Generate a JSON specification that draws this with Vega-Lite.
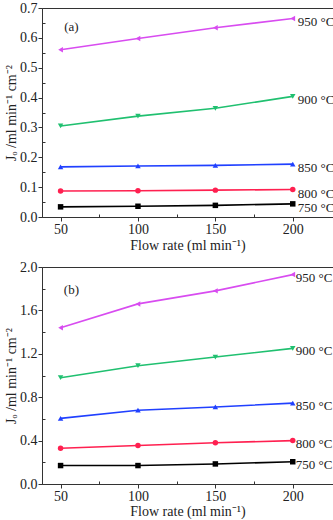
{
  "$schema": "https://vega.github.io/schema/vega-lite/v6.json",
  "padding": {"left": 4, "top": 0, "right": 0, "bottom": 0},
  "background": "white",
  "spacing": 50,
  "bounds": "flush",
  "config": {
    "font": "Liberation Serif",
    "view": {"stroke": "#333", "strokeWidth": 1},
    "axis": {"labelFont": "Liberation Serif", "titleFont": "Liberation Serif", "labelFontSize": 14, "titleFontSize": 14, "titleFontWeight": "normal", "labelColor": "#222", "titleColor": "#222", "domainColor": "#333", "tickColor": "#333", "grid": false, "labelOverlap": false, "labelPadding": 1}
  },
  "datasets": {
    "d": [
      {"p": "a", "t": "750 °C", "f": 50, "v": 0.034}, {"p": "a", "t": "750 °C", "f": 100, "v": 0.036}, {"p": "a", "t": "750 °C", "f": 150, "v": 0.039}, {"p": "a", "t": "750 °C", "f": 200, "v": 0.044},
      {"p": "a", "t": "800 °C", "f": 50, "v": 0.087}, {"p": "a", "t": "800 °C", "f": 100, "v": 0.088}, {"p": "a", "t": "800 °C", "f": 150, "v": 0.090}, {"p": "a", "t": "800 °C", "f": 200, "v": 0.092},
      {"p": "a", "t": "850 °C", "f": 50, "v": 0.168}, {"p": "a", "t": "850 °C", "f": 100, "v": 0.171}, {"p": "a", "t": "850 °C", "f": 150, "v": 0.173}, {"p": "a", "t": "850 °C", "f": 200, "v": 0.177},
      {"p": "a", "t": "900 °C", "f": 50, "v": 0.305}, {"p": "a", "t": "900 °C", "f": 100, "v": 0.338}, {"p": "a", "t": "900 °C", "f": 150, "v": 0.364}, {"p": "a", "t": "900 °C", "f": 200, "v": 0.404},
      {"p": "a", "t": "950 °C", "f": 50, "v": 0.560}, {"p": "a", "t": "950 °C", "f": 100, "v": 0.598}, {"p": "a", "t": "950 °C", "f": 150, "v": 0.634}, {"p": "a", "t": "950 °C", "f": 200, "v": 0.665},
      {"p": "b", "t": "750 °C", "f": 50, "v": 0.17}, {"p": "b", "t": "750 °C", "f": 100, "v": 0.17}, {"p": "b", "t": "750 °C", "f": 150, "v": 0.185}, {"p": "b", "t": "750 °C", "f": 200, "v": 0.205},
      {"p": "b", "t": "800 °C", "f": 50, "v": 0.33}, {"p": "b", "t": "800 °C", "f": 100, "v": 0.355}, {"p": "b", "t": "800 °C", "f": 150, "v": 0.38}, {"p": "b", "t": "800 °C", "f": 200, "v": 0.40},
      {"p": "b", "t": "850 °C", "f": 50, "v": 0.605}, {"p": "b", "t": "850 °C", "f": 100, "v": 0.68}, {"p": "b", "t": "850 °C", "f": 150, "v": 0.71}, {"p": "b", "t": "850 °C", "f": 200, "v": 0.745},
      {"p": "b", "t": "900 °C", "f": 50, "v": 0.98}, {"p": "b", "t": "900 °C", "f": 100, "v": 1.09}, {"p": "b", "t": "900 °C", "f": 150, "v": 1.17}, {"p": "b", "t": "900 °C", "f": 200, "v": 1.25},
      {"p": "b", "t": "950 °C", "f": 50, "v": 1.44}, {"p": "b", "t": "950 °C", "f": 100, "v": 1.66}, {"p": "b", "t": "950 °C", "f": 150, "v": 1.78}, {"p": "b", "t": "950 °C", "f": 200, "v": 1.93}
    ],
    "tags": [
      {"p": "a", "label": "(a)", "f": 57, "v": 0.636},
      {"p": "b", "label": "(b)", "f": 57, "v": 1.79}
    ]
  },
  "vconcat": [
    {
      "width": 291, "height": 209,
      "data": {"name": "d"},
      "transform": [{"filter": "datum.p === 'a'"}],
      "encoding": {
        "x": {"field": "f", "type": "quantitative", "scale": {"domain": [38, 226], "nice": false, "zero": false}, "axis": {"values": [50, 75, 100, 125, 150, 175, 200], "labelExpr": "datum.value % 50 === 0 ? datum.label : ''", "tickSize": {"condition": {"test": "datum.value % 50 !== 0", "value": -3}, "value": 4}, "title": "Flow rate (ml min⁻¹)", "titlePadding": 2}},
        "y": {"field": "v", "type": "quantitative", "scale": {"domain": [0, 0.7], "nice": false}, "axis": {"values": [0, 0.05, 0.1, 0.15, 0.2, 0.25, 0.3, 0.35, 0.4, 0.45, 0.5, 0.55, 0.6, 0.65, 0.7], "labelExpr": "abs(datum.value*10 - round(datum.value*10)) < 0.001 ? format(datum.value, '.1f') : ''", "tickSize": {"condition": {"test": "abs(datum.value*10 - round(datum.value*10)) > 0.001", "value": -3}, "value": 4}, "title": "Jₒ /ml min⁻¹ cm⁻²", "titlePadding": 1}}
      },
      "layer": [
        {
          "mark": {"type": "line", "strokeWidth": 1.6},
          "encoding": {
            "color": {"field": "t", "type": "nominal", "legend": null, "scale": {"domain": ["750 °C", "800 °C", "850 °C", "900 °C", "950 °C"], "range": ["#000000", "#FF2050", "#2040FF", "#20C070", "#D84CF0"]}}
          }
        },
        {
          "mark": {"type": "point", "filled": true, "size": 30, "opacity": 1},
          "encoding": {
            "color": {"field": "t", "type": "nominal", "legend": null, "scale": {"domain": ["750 °C", "800 °C", "850 °C", "900 °C", "950 °C"], "range": ["#000000", "#FF2050", "#2040FF", "#20C070", "#D84CF0"]}},
            "shape": {"field": "t", "type": "nominal", "legend": null, "scale": {"domain": ["750 °C", "800 °C", "850 °C", "900 °C", "950 °C"], "range": ["square", "circle", "triangle-up", "triangle-down", "triangle-left"]}}
          }
        },
        {
          "transform": [{"filter": "datum.f === 200"}],
          "mark": {"type": "text", "align": "left", "baseline": "middle", "dx": 5, "dy": 4, "fontSize": 13, "color": "#222"},
          "encoding": {"text": {"field": "t"}}
        },
        {
          "data": {"name": "tags"},
          "transform": [{"filter": "datum.p === 'a'"}],
          "mark": {"type": "text", "align": "center", "baseline": "middle", "fontSize": 13, "color": "#222"},
          "encoding": {"text": {"field": "label"}}
        }
      ]
    },
    {
      "width": 291, "height": 217,
      "data": {"name": "d"},
      "transform": [{"filter": "datum.p === 'b'"}],
      "encoding": {
        "x": {"field": "f", "type": "quantitative", "scale": {"domain": [38, 226], "nice": false, "zero": false}, "axis": {"values": [50, 75, 100, 125, 150, 175, 200], "labelExpr": "datum.value % 50 === 0 ? datum.label : ''", "tickSize": {"condition": {"test": "datum.value % 50 !== 0", "value": -3}, "value": 4}, "title": "Flow rate (ml min⁻¹)", "titlePadding": 1}},
        "y": {"field": "v", "type": "quantitative", "scale": {"domain": [0, 2.0], "nice": false}, "axis": {"values": [0, 0.2, 0.4, 0.6, 0.8, 1.0, 1.2, 1.4, 1.6, 1.8, 2.0], "labelExpr": "abs(datum.value/0.4 - round(datum.value/0.4)) < 0.001 ? format(datum.value, '.1f') : ''", "tickSize": {"condition": {"test": "abs(datum.value/0.4 - round(datum.value/0.4)) > 0.001", "value": -3}, "value": 4}, "title": "Jₒ /ml min⁻¹ cm⁻²", "titlePadding": 1}}
      },
      "layer": [
        {
          "mark": {"type": "line", "strokeWidth": 1.6},
          "encoding": {
            "color": {"field": "t", "type": "nominal", "legend": null, "scale": {"domain": ["750 °C", "800 °C", "850 °C", "900 °C", "950 °C"], "range": ["#000000", "#FF2050", "#2040FF", "#20C070", "#D84CF0"]}}
          }
        },
        {
          "mark": {"type": "point", "filled": true, "size": 30, "opacity": 1},
          "encoding": {
            "color": {"field": "t", "type": "nominal", "legend": null, "scale": {"domain": ["750 °C", "800 °C", "850 °C", "900 °C", "950 °C"], "range": ["#000000", "#FF2050", "#2040FF", "#20C070", "#D84CF0"]}},
            "shape": {"field": "t", "type": "nominal", "legend": null, "scale": {"domain": ["750 °C", "800 °C", "850 °C", "900 °C", "950 °C"], "range": ["square", "circle", "triangle-up", "triangle-down", "triangle-left"]}}
          }
        },
        {
          "transform": [{"filter": "datum.f === 200"}],
          "mark": {"type": "text", "align": "left", "baseline": "middle", "dx": 3, "dy": 3, "fontSize": 13, "color": "#222"},
          "encoding": {"text": {"field": "t"}}
        },
        {
          "data": {"name": "tags"},
          "transform": [{"filter": "datum.p === 'b'"}],
          "mark": {"type": "text", "align": "center", "baseline": "middle", "fontSize": 13, "color": "#222"},
          "encoding": {"text": {"field": "label"}}
        }
      ]
    }
  ]
}
